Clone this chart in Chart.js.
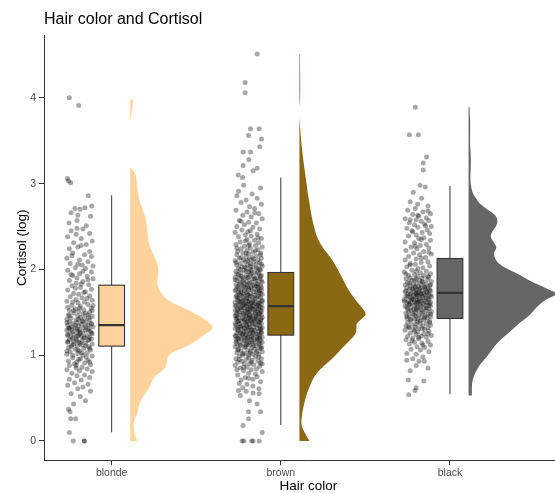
<!DOCTYPE html>
<html>
<head>
<meta charset="utf-8">
<script src="https://cdn.jsdelivr.net/npm/chart.js@4"></script>
<style>
  html, body { margin: 0; padding: 0; overflow: hidden; background: #fff; }
  #wrap { width: 585px; height: 493px; }
</style>
</head>
<body>
<div id="wrap"><canvas id="c" width="585" height="493"></canvas></div>
<script>
// Categories and axis ticks
const categories = ['blonde', 'brown', 'black'];
const yTicks = [0, 1, 2, 3, 4];
const fillColors = ['#FFD39B', '#8B6914', '#666666'];

// Box plot statistics (log cortisol)
const boxQ1 = [1.106, 1.234, 1.428];
const boxMedian = [1.35, 1.572, 1.726];
const boxQ3 = [1.816, 1.964, 2.127];
const whiskerLow = [0.10, 0.186, 0.547];
const whiskerHigh = [2.864, 3.07, 2.972];

// Kernel density estimates: [value, density]
const blondeDensity = [[0,.07],[.05,.05],[.1,.04],[.2,.03],[.27,.05],[.33,.075],[.44,.09],[.52,.13],[.6,.18],[.7,.22],[.76,.25],[.82,.32],[.87,.36],[.95,.37],[1.0,.38],[1.05,.45],[1.1,.57],[1.17,.66],[1.23,.73],[1.28,.80],[1.32,.83],[1.37,.80],[1.43,.73],[1.48,.66],[1.53,.57],[1.58,.48],[1.62,.40],[1.69,.33],[1.76,.29],[1.82,.27],[1.87,.27],[1.95,.28],[2.03,.28],[2.1,.26],[2.18,.23],[2.26,.20],[2.34,.18],[2.45,.17],[2.55,.16],[2.61,.15],[2.68,.13],[2.77,.10],[2.88,.08],[2.98,.07],[3.08,.06],[3.14,.04],[3.19,0],[3.7,0],[3.78,.005],[3.85,.02],[3.92,.025],[3.98,.027]];
const brownDensity = [[0,.10],[.04,.08],[.09,.057],[.15,.03],[.2,.017],[.3,.025],[.4,.04],[.5,.06],[.6,.09],[.7,.125],[.79,.17],[.87,.24],[.94,.31],[1.02,.38],[1.1,.44],[1.18,.51],[1.25,.567],[1.31,.57],[1.37,.57],[1.42,.62],[1.47,.67],[1.52,.65],[1.56,.62],[1.66,.55],[1.76,.49],[1.85,.45],[1.95,.407],[2.05,.36],[2.15,.307],[2.24,.24],[2.34,.19],[2.43,.16],[2.53,.14],[2.63,.12],[2.73,.107],[2.82,.093],[2.92,.08],[3.01,.07],[3.12,.057],[3.3,.035],[3.5,.017],[3.65,.008],[3.77,0],[3.9,0],[3.97,.008],[4.2,.008],[4.4,.006],[4.51,.005]];
const blackDensity = [[.53,.033],[.6,.033],[.67,.033],[.75,.05],[.83,.083],[.9,.12],[.98,.183],[1.06,.23],[1.14,.283],[1.21,.35],[1.29,.43],[1.37,.50],[1.45,.60],[1.52,.65],[1.56,.68],[1.64,.76],[1.68,.83],[1.72,.90],[1.76,.81],[1.8,.74],[1.84,.66],[1.87,.61],[1.93,.52],[1.99,.42],[2.04,.33],[2.09,.283],[2.14,.26],[2.19,.25],[2.23,.27],[2.26,.283],[2.32,.25],[2.38,.217],[2.43,.23],[2.49,.267],[2.53,.285],[2.57,.29],[2.61,.28],[2.65,.25],[2.69,.20],[2.73,.15],[2.77,.11],[2.81,.083],[2.87,.05],[2.92,.033],[3.0,.02],[3.08,.017],[3.2,.023],[3.31,.023],[3.45,.015],[3.55,.015],[3.7,.017],[3.8,.012],[3.89,.01]];

// Individual observations: [value, horizontal jitter]
const blondePoints = [[4.0,-.25],[3.91,-.195],[3.06,-.262],[3.03,-.255],[3.01,-.242],[2.86,-.138],
[2.71,-.217],[2.72,-.158],[2.74,-.118],[2.70,-.187],[2.66,-.24],[2.63,-.20],[2.62,-.125],[2.57,-.205],[2.54,-.252],[2.51,-.15],
[2.47,-.17],[2.45,-.24],[2.42,-.13],[2.41,-.21],[2.38,-.26],[2.36,-.18],[2.33,-.115],[2.31,-.225],[2.29,-.15],[2.26,-.20],[2.24,-.25],[2.21,-.13],
[2.19,-.23],[2.17,-.16],[2.15,-.12],[2.13,-.265],[2.11,-.19],[2.09,-.14],[2.07,-.245],[2.05,-.175],[2.04,-.11],[2.02,-.215],[2.01,-.155],
[1.99,-.26],[1.97,-.12],[1.95,-.19],[1.93,-.23],[1.92,-.145],[1.9,-.205],[1.89,-.11],[1.87,-.25],[1.86,-.17],[1.84,-.21],[1.82,-.135],[1.81,-.235],
[1.79,-.185],[1.77,-.12],[1.76,-.26],[1.74,-.155],[1.72,-.225],[1.71,-.195],[1.69,-.13],[1.68,-.245],[1.67,-.175],[1.65,-.21],[1.64,-.115],[1.63,-.265],[1.62,-.16],[1.61,-.2],
[1.59,-.14],[1.58,-.235],[1.57,-.185],[1.56,-.26],[1.55,-.12],[1.54,-.215],[1.53,-.165],[1.52,-.25],[1.51,-.195],[1.5,-.13],
[1.49,-.225],[1.48,-.17],[1.47,-.255],[1.47,-.14],[1.46,-.2],[1.45,-.115],[1.44,-.185],[1.43,-.24],[1.43,-.16],[1.42,-.265],[1.41,-.13],[1.41,-.21],[1.4,-.175],
[1.39,-.25],[1.39,-.15],[1.38,-.205],[1.37,-.12],[1.37,-.23],[1.36,-.18],[1.35,-.26],[1.35,-.14],[1.34,-.195],[1.33,-.24],[1.33,-.11],[1.32,-.165],[1.32,-.215],[1.31,-.255],[1.31,-.135],[1.3,-.19],[1.3,-.235],
[1.29,-.155],[1.29,-.265],[1.28,-.2],[1.28,-.125],[1.27,-.23],[1.26,-.17],[1.26,-.245],[1.25,-.115],[1.25,-.19],[1.24,-.22],[1.23,-.145],[1.23,-.26],[1.22,-.18],[1.22,-.205],[1.21,-.13],[1.21,-.24],[1.2,-.165],
[1.19,-.21],[1.19,-.12],[1.18,-.25],[1.17,-.175],[1.17,-.14],[1.16,-.225],[1.15,-.195],[1.15,-.26],[1.14,-.155],[1.13,-.115],[1.12,-.235],[1.12,-.18],[1.11,-.205],[1.1,-.135],
[1.09,-.255],[1.08,-.165],[1.07,-.215],[1.06,-.125],[1.05,-.19],[1.04,-.245],[1.03,-.145],[1.02,-.2],[1.01,-.265],[1.0,-.17],
[0.99,-.115],[0.97,-.23],[0.96,-.185],[0.94,-.14],[0.93,-.255],[0.92,-.205],[0.91,-.16],[0.9,-.22],
[0.89,-.125],[0.88,-.25],[0.86,-.175],[0.85,-.21],[0.84,-.145],[0.83,-.265],[0.82,-.19],[0.81,-.115],
[0.79,-.235],[0.77,-.16],[0.76,-.205],[0.74,-.13],[0.72,-.25],[0.71,-.18],[0.68,-.22],[0.66,-.14],[0.65,-.26],[0.63,-.17],[0.61,-.2],
[0.58,-.125],[0.55,-.24],[0.52,-.185],[0.47,-.155],[0.43,-.225],[0.37,-.255],[0.34,-.246],[0.26,-.242],[0.26,-.213],[0.1,-.25],
[0,-.227],[0,-.162],[0,-.162],
[1.62,-.23],[1.58,-.11],[1.55,-.19],[1.52,-.225],[1.49,-.155],[1.46,-.25],[1.44,-.135],[1.42,-.195],[1.39,-.17],[1.38,-.265],[1.36,-.12],[1.35,-.215],[1.34,-.155],[1.32,-.25],[1.3,-.205],[1.29,-.14],[1.27,-.185],[1.26,-.12],[1.24,-.26],[1.23,-.195],[1.21,-.16],[1.2,-.23],[1.18,-.135],[1.17,-.205],[1.16,-.26],[1.14,-.185],[1.13,-.225],[1.11,-.155],[1.1,-.24],[1.08,-.13],[1.06,-.2],[1.05,-.265],[1.03,-.175],[1.0,-.23],[0.98,-.15],[0.95,-.195],[0.92,-.13],[0.88,-.21],[1.73,-.165],[1.78,-.215],[1.83,-.18],[1.88,-.14],[1.94,-.24],[1.98,-.17],[2.06,-.2],[2.16,-.235],[2.28,-.18],[2.48,-.205],[1.66,-.145],[1.52,-.115]];

const brownPoints = [[4.51,-.14],[4.18,-.211],[4.06,-.211],[3.64,-.179],[3.64,-.128],[3.56,-.191],[3.52,-.114],[3.43,-.124],[3.37,-.223],[3.37,-.179],[3.28,-.189],[3.21,-.223],[3.18,-.14],[3.15,-.164],[3.10,-.252],[3.07,-.226],
[2.98,-.22],[2.95,-.12],[2.91,-.25],[2.88,-.17],[2.86,-.26],[2.83,-.14],[2.81,-.205],[2.78,-.235],[2.76,-.115],[2.73,-.185],[2.71,-.155],
[2.69,-.265],[2.67,-.2],[2.65,-.13],[2.63,-.225],[2.61,-.175],[2.59,-.11],[2.57,-.245],[2.55,-.19],[2.54,-.145],[2.52,-.215],[2.5,-.26],
[2.49,-.165],[2.47,-.125],[2.46,-.23],[2.44,-.195],[2.43,-.27],[2.41,-.14],[2.4,-.21],[2.39,-.175],[2.38,-.25],[2.36,-.115],[2.35,-.2],[2.34,-.155],[2.32,-.24],[2.31,-.13],[2.3,-.185],
[2.29,-.265],[2.28,-.15],[2.27,-.215],[2.26,-.11],[2.25,-.18],[2.24,-.235],[2.23,-.135],[2.22,-.2],[2.21,-.255],[2.2,-.165],
[2.19,-.12],[2.19,-.225],[2.18,-.19],[2.17,-.26],[2.16,-.145],[2.15,-.205],[2.14,-.17],[2.13,-.245],[2.13,-.115],[2.12,-.185],[2.11,-.22],[2.11,-.135],[2.1,-.27],
[2.09,-.16],[2.09,-.21],[2.08,-.125],[2.07,-.24],[2.07,-.18],[2.06,-.145],[2.05,-.26],[2.05,-.195],[2.04,-.11],[2.03,-.23],[2.03,-.165],[2.02,-.205],[2.01,-.135],[2.01,-.25],[2.0,-.18],
[1.99,-.12],[1.99,-.215],[1.98,-.265],[1.97,-.155],[1.97,-.19],[1.96,-.235],[1.95,-.13],[1.95,-.175],[1.94,-.25],[1.93,-.205],[1.93,-.115],[1.92,-.16],[1.91,-.225],[1.91,-.27],[1.9,-.14],[1.9,-.195],[1.9,-.245],
[1.89,-.17],[1.89,-.125],[1.88,-.22],[1.87,-.26],[1.87,-.15],[1.86,-.2],[1.85,-.11],[1.85,-.24],[1.84,-.185],[1.83,-.135],[1.83,-.215],[1.82,-.265],[1.82,-.165],[1.81,-.12],[1.81,-.23],[1.8,-.195],[1.8,-.145],[1.8,-.255],
[1.79,-.175],[1.79,-.115],[1.78,-.21],[1.78,-.25],[1.77,-.14],[1.76,-.19],[1.76,-.235],[1.75,-.125],[1.75,-.27],[1.74,-.16],[1.73,-.205],[1.73,-.13],[1.72,-.245],[1.72,-.18],[1.71,-.22],[1.71,-.11],[1.7,-.155],[1.7,-.26],[1.7,-.195],[1.74,-.235],
[1.69,-.14],[1.69,-.225],[1.68,-.17],[1.68,-.265],[1.67,-.12],[1.67,-.2],[1.66,-.245],[1.66,-.15],[1.65,-.185],[1.65,-.215],[1.64,-.11],[1.64,-.255],[1.63,-.165],[1.63,-.23],[1.62,-.135],[1.62,-.195],[1.62,-.27],[1.61,-.175],[1.61,-.125],[1.61,-.24],[1.6,-.205],[1.6,-.155],[1.6,-.22],
[1.59,-.115],[1.59,-.19],[1.59,-.25],[1.58,-.165],[1.58,-.225],[1.57,-.13],[1.57,-.205],[1.57,-.265],[1.56,-.145],[1.56,-.18],[1.56,-.24],[1.55,-.11],[1.55,-.215],[1.55,-.17],[1.54,-.255],[1.54,-.135],[1.54,-.195],[1.53,-.23],[1.53,-.155],[1.52,-.12],[1.52,-.27],[1.52,-.185],[1.51,-.21],[1.51,-.14],[1.5,-.245],[1.5,-.175],
[1.49,-.125],[1.49,-.2],[1.49,-.26],[1.48,-.15],[1.48,-.22],[1.47,-.115],[1.47,-.185],[1.47,-.24],[1.46,-.165],[1.46,-.27],[1.45,-.135],[1.45,-.205],[1.45,-.175],[1.44,-.25],[1.44,-.11],[1.43,-.19],[1.43,-.225],[1.43,-.145],[1.42,-.265],[1.42,-.16],[1.41,-.12],[1.41,-.215],[1.41,-.18],[1.4,-.235],[1.4,-.14],[1.4,-.195],
[1.39,-.255],[1.39,-.13],[1.38,-.17],[1.38,-.21],[1.37,-.115],[1.37,-.245],[1.36,-.185],[1.36,-.15],[1.35,-.225],[1.35,-.265],[1.34,-.125],[1.34,-.2],[1.33,-.16],[1.33,-.24],[1.32,-.11],[1.32,-.19],[1.31,-.27],[1.31,-.14],[1.31,-.215],[1.3,-.175],[1.3,-.235],[1.3,-.12],[1.36,-.205],[1.33,-.255],
[1.29,-.155],[1.29,-.195],[1.28,-.25],[1.28,-.13],[1.27,-.22],[1.27,-.165],[1.26,-.115],[1.26,-.26],[1.25,-.185],[1.25,-.145],[1.24,-.23],[1.24,-.205],[1.23,-.125],[1.23,-.27],[1.22,-.17],[1.22,-.24],[1.21,-.14],[1.21,-.195],[1.21,-.11],[1.2,-.255],[1.2,-.215],[1.2,-.16],[1.26,-.18],
[1.19,-.135],[1.19,-.23],[1.18,-.175],[1.18,-.265],[1.17,-.12],[1.17,-.2],[1.16,-.15],[1.16,-.245],[1.15,-.19],[1.15,-.11],[1.14,-.22],[1.14,-.165],[1.13,-.26],[1.13,-.13],[1.12,-.205],[1.12,-.185],[1.11,-.145],[1.11,-.24],[1.1,-.115],[1.1,-.27],
[1.09,-.17],[1.09,-.215],[1.08,-.125],[1.07,-.25],[1.07,-.155],[1.06,-.195],[1.05,-.235],[1.05,-.14],[1.04,-.11],[1.03,-.18],[1.03,-.26],[1.02,-.21],[1.01,-.13],[1.01,-.165],[1.0,-.225],
[0.99,-.245],[0.98,-.15],[0.97,-.19],[0.96,-.115],[0.96,-.265],[0.95,-.205],[0.94,-.17],[0.93,-.135],[0.93,-.23],[0.92,-.255],[0.91,-.12],[0.9,-.185],[0.9,-.215],
[0.89,-.16],[0.88,-.27],[0.87,-.125],[0.86,-.2],[0.85,-.24],[0.84,-.145],[0.83,-.175],[0.82,-.22],[0.81,-.11],
[0.79,-.19],[0.77,-.255],[0.75,-.14],[0.74,-.21],[0.72,-.165],[0.71,-.235],[0.69,-.12],[0.67,-.245],[0.66,-.2],[0.64,-.165],[0.62,-.225],[0.61,-.13],
[0.59,-.25],[0.58,-.205],[0.56,-.164],[0.55,-.128],[0.53,-.24],[0.47,-.185],[0.43,-.14],[0.34,-.191],[0.34,-.12],[0.26,-.191],[0.18,-.223],[0.1,-.11],
[0,-.229],[0,-.219],[0,-.173],[0,-.164],[0,-.128],
[2.28,-.19],[2.25,-.26],[2.22,-.15],[2.19,-.205],[2.17,-.12],[2.14,-.235],[2.12,-.16],[2.1,-.195],[2.08,-.265],[2.06,-.115],[2.04,-.18],[2.03,-.215],[2.02,-.145],[2.0,-.24],[2.0,-.125],
[1.99,-.175],[1.98,-.205],[1.96,-.14],[1.95,-.26],[1.94,-.18],[1.92,-.12],[1.92,-.235],[1.91,-.195],[1.89,-.155],[1.88,-.27],[1.87,-.115],[1.86,-.225],[1.85,-.175],[1.84,-.14],[1.83,-.245],[1.82,-.2],[1.81,-.155],[1.8,-.22],
[1.79,-.135],[1.78,-.19],[1.77,-.265],[1.77,-.17],[1.76,-.115],[1.75,-.215],[1.74,-.145],[1.73,-.25],[1.72,-.12],[1.71,-.195],[1.7,-.235],[1.69,-.18],[1.68,-.13],[1.67,-.255],[1.66,-.205],[1.65,-.155],[1.64,-.225],[1.63,-.11],[1.63,-.19],[1.62,-.245],[1.61,-.165],[1.6,-.135],
[1.59,-.215],[1.58,-.14],[1.58,-.27],[1.57,-.18],[1.56,-.12],[1.55,-.235],[1.54,-.165],[1.53,-.2],[1.52,-.255],[1.51,-.115],[1.5,-.19],[1.5,-.15],[1.49,-.225],[1.48,-.13],[1.47,-.265],[1.46,-.205],[1.45,-.145],[1.44,-.185],[1.43,-.26],[1.42,-.115],[1.42,-.22],[1.41,-.155],[1.4,-.25],[1.4,-.17],
[1.39,-.2],[1.38,-.125],[1.37,-.27],[1.36,-.165],[1.35,-.14],[1.34,-.235],[1.33,-.185],[1.32,-.215],[1.31,-.12],[1.3,-.255],[1.29,-.17],[1.28,-.205],[1.27,-.115],[1.26,-.24],[1.25,-.16],[1.24,-.135],[1.23,-.21],[1.22,-.265],[1.21,-.175],[1.2,-.125],[1.2,-.195],[1.25,-.225],
[1.19,-.25],[1.18,-.14],[1.17,-.215],[1.16,-.17],[1.15,-.265],[1.14,-.125],[1.13,-.195],[1.12,-.24],[1.11,-.16],[1.1,-.21],[1.08,-.115],[1.06,-.255],[1.05,-.18],[1.03,-.145],[1.02,-.225],[1.0,-.19],
[0.98,-.13],[0.95,-.245],[0.92,-.175],[0.9,-.11],[0.86,-.22],[0.83,-.26],[0.78,-.15],[0.73,-.19],
[2.33,-.21],[2.37,-.135],[2.45,-.18],[2.56,-.235],[2.66,-.155]];

const blackPoints = [[3.89,-.205],[3.57,-.24],[3.57,-.187],[3.31,-.138],[3.24,-.158],[3.16,-.158],[2.98,-.177],[2.96,-.146],[2.9,-.217],[2.83,-.167],[2.76,-.191],
[2.79,-.235],[2.74,-.13],[2.71,-.205],[2.69,-.25],[2.67,-.16],[2.65,-.115],[2.64,-.22],[2.62,-.185],[2.6,-.14],
[2.59,-.265],[2.58,-.2],[2.57,-.125],[2.56,-.17],[2.54,-.24],[2.53,-.15],[2.52,-.21],[2.5,-.11],
[2.49,-.19],[2.48,-.255],[2.46,-.135],[2.45,-.225],[2.43,-.165],[2.42,-.12],[2.4,-.2],
[2.39,-.245],[2.37,-.155],[2.36,-.185],[2.34,-.115],[2.32,-.265],[2.31,-.21],
[2.29,-.14],[2.28,-.175],[2.26,-.23],[2.25,-.125],[2.24,-.195],[2.22,-.26],[2.21,-.155],
[2.19,-.215],[2.18,-.11],[2.17,-.18],[2.15,-.245],[2.14,-.145],[2.12,-.2],[2.11,-.265],
[2.09,-.13],[2.08,-.17],[2.07,-.235],[2.06,-.205],[2.04,-.12],[2.03,-.255],[2.02,-.16],[2.01,-.19],
[1.99,-.225],[1.98,-.14],[1.97,-.27],[1.96,-.175],[1.95,-.115],[1.94,-.21],[1.93,-.245],[1.93,-.155],[1.92,-.19],[1.91,-.125],[1.9,-.235],[1.9,-.165],
[1.89,-.2],[1.89,-.26],[1.88,-.135],[1.87,-.18],[1.87,-.225],[1.86,-.11],[1.85,-.25],[1.85,-.16],[1.84,-.195],[1.83,-.14],[1.83,-.215],[1.82,-.265],[1.82,-.17],[1.81,-.12],[1.81,-.235],[1.8,-.185],[1.8,-.15],
[1.79,-.205],[1.79,-.255],[1.78,-.13],[1.78,-.175],[1.77,-.22],[1.77,-.145],[1.76,-.195],[1.76,-.24],[1.75,-.115],[1.75,-.165],[1.74,-.21],[1.74,-.265],[1.73,-.185],[1.73,-.135],[1.72,-.23],[1.72,-.155],[1.72,-.2],[1.71,-.125],[1.71,-.25],[1.71,-.175],[1.7,-.215],[1.7,-.145],[1.7,-.19],
[1.69,-.26],[1.69,-.165],[1.68,-.11],[1.68,-.205],[1.67,-.235],[1.67,-.14],[1.66,-.18],[1.66,-.225],[1.65,-.27],[1.65,-.125],[1.64,-.195],[1.64,-.155],[1.63,-.245],[1.63,-.17],[1.62,-.115],[1.62,-.21],[1.62,-.185],[1.61,-.255],[1.61,-.135],[1.61,-.23],[1.6,-.16],[1.6,-.2],[1.6,-.12],[1.65,-.215],
[1.59,-.24],[1.59,-.175],[1.58,-.145],[1.58,-.21],[1.57,-.265],[1.57,-.115],[1.56,-.19],[1.56,-.23],[1.55,-.155],[1.55,-.2],[1.54,-.125],[1.54,-.25],[1.53,-.17],[1.53,-.215],[1.52,-.14],[1.52,-.185],[1.51,-.245],[1.51,-.11],[1.5,-.205],
[1.49,-.165],[1.49,-.26],[1.48,-.13],[1.48,-.22],[1.47,-.185],[1.46,-.145],[1.46,-.24],[1.45,-.2],[1.45,-.115],[1.44,-.17],[1.43,-.255],[1.43,-.135],[1.42,-.21],[1.42,-.19],[1.41,-.155],[1.41,-.235],[1.4,-.12],
[1.39,-.195],[1.38,-.25],[1.37,-.14],[1.37,-.175],[1.36,-.225],[1.35,-.115],[1.34,-.26],[1.34,-.16],[1.33,-.205],[1.32,-.13],[1.32,-.24],[1.31,-.185],[1.3,-.15],[1.3,-.215],
[1.29,-.265],[1.28,-.125],[1.27,-.19],[1.26,-.235],[1.25,-.155],[1.24,-.2],[1.23,-.11],[1.22,-.25],[1.22,-.17],[1.21,-.14],[1.2,-.22],
[1.19,-.185],[1.18,-.26],[1.16,-.13],[1.15,-.21],[1.14,-.165],[1.13,-.24],[1.12,-.115],[1.1,-.195],
[1.09,-.15],[1.07,-.23],[1.06,-.175],[1.04,-.125],[1.02,-.255],[1.01,-.2],
[0.98,-.16],[0.96,-.22],[0.94,-.256],[0.93,-.183],[0.93,-.152],[0.88,-.2],[0.85,-.13],[0.82,-.235],
[0.71,-.246],[0.70,-.154],[0.62,-.2],[0.59,-.207],[0.54,-.244],
[1.98,-.2],[1.95,-.26],[1.92,-.13],[1.88,-.21],[1.86,-.165],[1.84,-.24],[1.82,-.115],[1.8,-.205],[1.79,-.15],[1.78,-.225],[1.77,-.18],[1.76,-.12],[1.75,-.26],[1.74,-.14],[1.73,-.2],[1.72,-.17],[1.71,-.235],[1.7,-.115],[1.69,-.195],[1.68,-.25],[1.67,-.16],[1.66,-.13],[1.65,-.225],[1.64,-.185],[1.63,-.27],[1.62,-.145],[1.61,-.195],[1.6,-.24],[1.58,-.125],[1.57,-.175],[1.56,-.255],[1.55,-.14],[1.53,-.2],[1.52,-.23],[1.5,-.16],[1.48,-.115],[1.47,-.21],[1.45,-.255],[1.44,-.15],[1.42,-.23],[1.4,-.175],[1.38,-.12],[1.36,-.2],[1.33,-.245],[1.31,-.165],[1.28,-.21],[1.25,-.13],[1.21,-.185],[1.17,-.225],[1.12,-.16],[2.05,-.235],[2.13,-.17],[2.2,-.125],[2.27,-.205],[2.35,-.17],[2.44,-.22],[2.51,-.145],[2.58,-.235],[2.63,-.19],[2.68,-.13]];

const groupPoints = [blondePoints, brownPoints, blackPoints];
const groupDensity = [blondeDensity, brownDensity, blackDensity];

// Geometry of the cloud / box / rain pieces, in category units
const violinOffset = 0.11;
const violinWidth = 0.591;
const boxHalfWidth = 0.076;

Chart.defaults.font.family = "'Liberation Sans', Arial, Helvetica, sans-serif";

// split a density curve into runs separated by zero density
function densityRuns(dens) {
  const runs = [];
  let cur = [];
  dens.forEach(p => {
    cur.push(p);
    if (p[1] === 0 && cur.length > 1) { runs.push(cur); cur = [p]; }
  });
  if (cur.length > 1) runs.push(cur);
  return runs.filter(r => r.some(p => p[1] > 0));
}

const raincloud = {
  id: 'raincloud',
  beforeDatasetsDraw(chart) {
    const { ctx, chartArea, scales: { x, y } } = chart;
    ctx.save();
    ctx.beginPath();
    ctx.rect(chartArea.left, chartArea.top, chartArea.width, chartArea.height);
    ctx.clip();

    groupDensity.forEach((dens, i) => {
      // half violin (density cloud), smoothed through midpoints
      const base = i + 1 + violinOffset;
      const bx = x.getPixelForValue(base);
      ctx.fillStyle = fillColors[i];
      densityRuns(dens).forEach(run => {
        const pts = run.map(([v, d]) => [x.getPixelForValue(base + d * violinWidth), y.getPixelForValue(v)]);
        ctx.beginPath();
        ctx.moveTo(bx, pts[0][1]);
        ctx.lineTo(pts[0][0], pts[0][1]);
        for (let k = 1; k < pts.length - 1; k++) {
          const mx = (pts[k][0] + pts[k + 1][0]) / 2;
          const my = (pts[k][1] + pts[k + 1][1]) / 2;
          ctx.quadraticCurveTo(pts[k][0], pts[k][1], mx, my);
        }
        const last = pts[pts.length - 1];
        ctx.lineTo(last[0], last[1]);
        ctx.lineTo(bx, last[1]);
        ctx.closePath();
        ctx.fill();
      });

      // whiskers
      const cx = x.getPixelForValue(i + 1);
      ctx.strokeStyle = '#333333';
      ctx.lineWidth = 1;
      ctx.beginPath();
      ctx.moveTo(cx, y.getPixelForValue(whiskerHigh[i]));
      ctx.lineTo(cx, y.getPixelForValue(boxQ3[i]));
      ctx.moveTo(cx, y.getPixelForValue(boxQ1[i]));
      ctx.lineTo(cx, y.getPixelForValue(whiskerLow[i]));
      ctx.stroke();

      // box
      const x0 = x.getPixelForValue(i + 1 - boxHalfWidth);
      const x1 = x.getPixelForValue(i + 1 + boxHalfWidth);
      const yTop = y.getPixelForValue(boxQ3[i]);
      const yBot = y.getPixelForValue(boxQ1[i]);
      ctx.fillStyle = fillColors[i];
      ctx.fillRect(x0, yTop, x1 - x0, yBot - yTop);
      ctx.strokeStyle = '#333333';
      ctx.lineWidth = 1.1;
      ctx.strokeRect(x0, yTop, x1 - x0, yBot - yTop);

      // median
      const ym = y.getPixelForValue(boxMedian[i]);
      ctx.lineWidth = 2.2;
      ctx.beginPath();
      ctx.moveTo(x0, ym);
      ctx.lineTo(x1, ym);
      ctx.stroke();
    });
    ctx.restore();
  }
};

const datasets = groupPoints.map((pts, i) => ({
  label: categories[i],
  data: pts.map(([v, j]) => ({ x: i + 1 + j, y: v })),
  pointRadius: 2.5,
  pointHoverRadius: 2.5,
  pointBackgroundColor: 'rgba(0,0,0,0.34)',
  pointBorderWidth: 0,
  borderWidth: 0
}));

const tickFont = { size: 10.5 };
new Chart(document.getElementById('c'), {
  type: 'scatter',
  data: { datasets },
  plugins: [raincloud],
  options: {
    responsive: false,
    animation: false,
    layout: { padding: { left: 0, right: 12.4, top: 0, bottom: 0 } },
    plugins: {
      legend: { display: false },
      tooltip: { enabled: false },
      title: {
        display: true,
        text: 'Hair color and Cortisol',
        align: 'start',
        fullSize: false,
        color: '#000000',
        font: { size: 16, weight: 'normal' },
        padding: { top: 10, bottom: 6 }
      }
    },
    scales: {
      x: {
        type: 'linear',
        position: 'bottom',
        min: 0.6,
        max: 3.725,
        afterBuildTicks: s => { s.ticks = categories.map((c, i) => ({ value: i + 1 })); },
        afterFit: s => { s.height = 32.7; },
        grid: { drawOnChartArea: false, drawTicks: true, tickLength: 5, tickColor: '#333333', tickWidth: 1 },
        border: { display: true, color: '#333333', width: 1 },
        ticks: {
          color: '#4D4D4D', font: tickFont, padding: 2, autoSkip: false, maxRotation: 0,
          callback: v => categories[Math.round(v) - 1] || ''
        },
        title: { display: true, text: 'Hair color', color: '#000000', font: { size: 13.5, lineHeight: 1 }, padding: { top: 0, bottom: 0 } }
      },
      y: {
        type: 'linear',
        min: -0.225,
        max: 4.73,
        afterBuildTicks: s => { s.ticks = yTicks.map(v => ({ value: v })); },
        afterFit: s => { s.width = 44; },
        grid: { drawOnChartArea: false, drawTicks: true, tickLength: 5, tickColor: '#333333', tickWidth: 1 },
        border: { display: true, color: '#333333', width: 1 },
        ticks: { color: '#4D4D4D', font: tickFont, padding: 3, callback: v => String(v) },
        title: { display: true, text: 'Cortisol (log)', color: '#000000', font: { size: 13.5 }, padding: { top: 14, bottom: 0 } }
      }
    }
  }
});
</script>
</body>
</html>
